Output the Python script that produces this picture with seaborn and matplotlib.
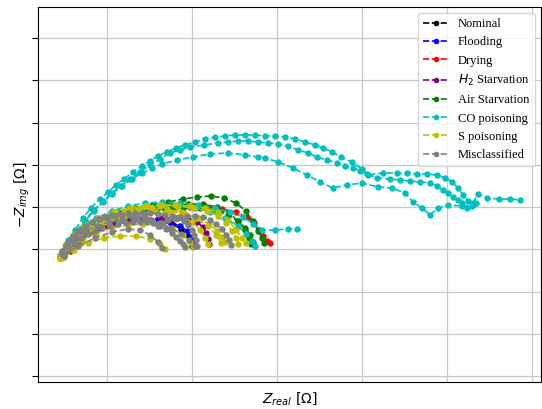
import matplotlib
matplotlib.use('Agg')
import matplotlib.pyplot as plt
from matplotlib.lines import Line2D
import pandas as pd
import numpy as np
import seaborn as sns

# %% data: Z_real and Z_img per curve (plotted as -Z_img)
classes = ['Nominal', 'Flooding', 'Drying', '$H_2$ Starvation', 'Air Starvation',
           'CO poisoning', 'S poisoning', 'Misclassified']
colors = ['black', 'blue', 'red', 'purple', 'green', 'c', 'y', 'gray']

nom_x = [61, 70, 82, 97, 113, 130, 146, 160, 172, 181, 187, 190, 192]
nom_zi = [-145, -155, -164, -171, -176, -179, -180, -179, -176, -171, -165, -159, -154]

flood_x = [60, 70, 82, 96, 112, 128, 144, 158, 170, 180, 187, 191, 194, 195]
flood_zi = [-145, -156, -166, -173, -178, -181, -182, -181, -178, -174, -169, -163, -158, -154]

dry_x = [60, 70, 82, 94, 107, 122, 138, 155, 173, 190, 207, 222, 236, 247, 254, 259, 263, 267, 270]
dry_zi = [-142, -149, -159, -167, -174, -180, -185, -189, -192, -193, -193, -191, -188, -183,
          -177, -170, -164, -159, -157]

h2_x = [61, 70, 83, 98, 114, 130, 146, 162, 176, 188, 197, 203, 206, 208, 209]
h2_zi = [-144, -154, -164, -171, -176, -179, -181, -182, -182, -181, -178, -173, -167, -161, -156]

air1_x = [62, 72, 85, 100, 118, 135, 152, 168, 183, 197, 211, 224, 236, 246, 253, 258, 262, 264]
air1_zi = [-147, -160, -172, -181, -188, -192, -195, -198, -201, -203, -204, -202, -197, -189,
           -179, -169, -162, -157]
air2_x = [64, 78, 95, 115, 135, 155, 172, 188, 203, 217, 229, 238, 245, 249, 251]
air2_zi = [-145, -159, -171, -181, -187, -191, -194, -196, -196, -193, -187, -179, -170, -162, -156]
air3_x = [63, 75, 90, 108, 127, 146, 165, 183, 200, 215, 228, 238, 245, 250, 253]
air3_zi = [-146, -158, -169, -178, -184, -188, -191, -192, -192, -190, -185, -179, -172, -165, -158]

co1_x = [62, 68, 75, 83, 91, 100, 108, 116, 124, 133, 142, 150, 158, 167, 176, 185, 195, 205,
         215, 225, 235, 245, 255, 265, 275, 285, 295, 305, 315, 323, 332, 341, 352, 362, 368,
         383, 397, 407, 417, 427, 437, 445, 452, 458, 463, 468, 473, 478, 487, 499, 510, 520]
co1_zi = [-148, -160, -170, -182, -192, -201, -208, -215, -221, -228, -234, -239, -244, -248,
          -252, -255, -258, -261, -263, -264, -265, -265, -265, -264, -264, -263, -261, -258,
          -255, -252, -248, -243, -238, -231, -225, -227, -227, -227, -226, -226, -225, -222,
          -218, -212, -205, -199, -197, -206, -202, -201, -201, -200]
co2_x = [63, 69, 77, 85, 94, 103, 112, 121, 130, 140, 150, 160, 170, 180, 190, 204, 218, 228,
         238, 248, 258, 268, 278, 288, 298, 308, 317, 327, 337, 345, 353, 360, 367, 377, 390,
         400, 410, 420, 430, 437, 443, 448, 453, 458, 462, 467, 472, 476]
co2_zi = [-147, -158, -169, -180, -190, -199, -207, -214, -221, -228, -235, -241, -247, -250,
          -253, -255, -257, -258, -259, -259, -258, -257, -256, -254, -250, -247, -243, -240,
          -237, -234, -232, -229, -226, -222, -221, -220, -219, -218, -217, -214, -210, -207,
          -203, -200, -197, -192, -194, -197]
co3_x = [62, 68, 76, 85, 94, 103, 112, 122, 132, 142, 152, 162, 177, 193, 210, 228, 245, 258,
         265, 278, 293, 307, 320, 333, 347, 362, 378, 392, 405, 413, 422, 430, 438, 448, 462, 473]
co3_zi = [-146, -157, -168, -179, -189, -198, -206, -214, -221, -227, -232, -236, -240, -243,
          -246, -247, -245, -243, -242, -238, -232, -225, -218, -212, -215, -217, -213, -212,
          -207, -198, -192, -185, -192, -195, -194, -195]
co4_x = [62, 70, 82, 96, 112, 128, 145, 162, 180, 198, 215, 230, 243, 253, 262, 275, 288, 297]
co4_zi = [-148, -160, -172, -182, -189, -194, -197, -198, -197, -195, -192, -188, -183, -176,
          -170, -170, -171, -171]
co5_x = [63, 75, 90, 108, 125, 142, 160, 178, 195, 210, 225, 238, 246, 252, 255]
co5_zi = [-146, -160, -172, -182, -188, -192, -194, -194, -192, -188, -182, -174, -166, -159, -154]

s1_x = [60, 66, 75, 86, 100, 115, 130, 145, 160, 175, 190, 205, 218, 228, 236, 242, 246]
s1_zi = [-144, -155, -166, -175, -182, -188, -192, -194, -195, -195, -194, -192, -188, -180,
         -170, -162, -157]
s2_x = [61, 68, 78, 90, 104, 120, 135, 150, 165, 180, 192, 200, 205, 208]
s2_zi = [-143, -153, -163, -171, -178, -183, -186, -188, -187, -184, -178, -170, -162, -156]
s3_x = [62, 70, 82, 96, 112, 128, 143, 158, 172, 183, 190, 193]
s3_zi = [-142, -151, -160, -167, -172, -175, -176, -176, -172, -165, -158, -153]
s4_x = [60, 65, 73, 84, 98, 114, 130, 146, 162, 178, 193, 207, 218, 226, 232, 236, 238]
s4_zi = [-145, -155, -165, -174, -182, -188, -192, -194, -195, -194, -192, -189, -184, -177,
         -169, -162, -156]
s5_x = [64, 74, 88, 104, 120, 136, 150, 160, 165]
s5_zi = [-143, -150, -157, -162, -164, -164, -161, -156, -151]
s6_x = [61, 69, 80, 93, 108, 124, 140, 156, 171, 185, 198, 209, 217, 222, 225]
s6_zi = [-144, -154, -164, -172, -178, -183, -186, -188, -188, -186, -182, -176, -169, -163, -158]
s7_x = [60, 64, 70, 78, 88, 99, 111, 124, 138, 152, 167, 182, 196, 208, 216, 221]
s7_zi = [-142, -150, -159, -167, -174, -180, -185, -189, -191, -192, -191, -188, -182, -174,
         -165, -157]

mis1_x = [62, 66, 70, 75, 80, 86, 92, 98, 105, 112, 120, 128, 135, 143, 150, 158, 165, 172,
          178, 184, 188, 192, 194, 196, 197]
mis1_zi = [-147, -154, -160, -165, -170, -174, -178, -181, -183, -185, -186, -187, -187, -187,
           -187, -186, -185, -184, -182, -179, -175, -170, -165, -160, -154]
mis2_x = [64, 69, 75, 81, 88, 95, 102, 110, 118, 126, 133, 140, 147, 153, 158, 163, 168, 174,
          180, 187, 195, 203, 210, 216, 222, 226, 229, 231]
mis2_zi = [-145, -151, -157, -162, -166, -169, -172, -174, -176, -177, -178, -178, -178, -177,
           -174, -177, -180, -182, -183, -184, -184, -183, -180, -176, -171, -165, -160, -155]
mis3_x = [62, 67, 72, 78, 85, 92, 100, 107, 115, 122, 130, 137, 145, 152, 160, 166, 172, 176,
          180, 183, 185]
mis3_zi = [-149, -157, -163, -169, -174, -178, -181, -183, -184, -185, -185, -184, -182, -179,
           -174, -171, -167, -163, -159, -156, -153]
mis4_x = [64, 78, 95, 112, 128, 140, 150, 158, 162]
mis4_zi = [-144, -154, -162, -168, -171, -170, -165, -158, -152]
mis5_x = [62, 68, 76, 86, 97, 109, 122, 135, 148, 160, 171, 181, 189, 195]
mis5_zi = [-146, -154, -162, -169, -174, -178, -180, -181, -180, -177, -172, -166, -160, -154]

curves = [
    ('Nominal', nom_x, nom_zi),
    ('Flooding', flood_x, flood_zi),
    ('Drying', dry_x, dry_zi),
    ('$H_2$ Starvation', h2_x, h2_zi),
    ('Air Starvation', air1_x, air1_zi),
    ('Air Starvation', air2_x, air2_zi),
    ('Air Starvation', air3_x, air3_zi),
    ('CO poisoning', co1_x, co1_zi),
    ('CO poisoning', co2_x, co2_zi),
    ('CO poisoning', co3_x, co3_zi),
    ('CO poisoning', co4_x, co4_zi),
    ('CO poisoning', co5_x, co5_zi),
    ('S poisoning', s1_x, s1_zi),
    ('S poisoning', s2_x, s2_zi),
    ('S poisoning', s3_x, s3_zi),
    ('S poisoning', s4_x, s4_zi),
    ('S poisoning', s5_x, s5_zi),
    ('S poisoning', s6_x, s6_zi),
    ('S poisoning', s7_x, s7_zi),
    ('Misclassified', mis1_x, mis1_zi),
    ('Misclassified', mis2_x, mis2_zi),
    ('Misclassified', mis3_x, mis3_zi),
    ('Misclassified', mis4_x, mis4_zi),
    ('Misclassified', mis5_x, mis5_zi),
]

frames = []
for i, (label, zx, zi) in enumerate(curves):
    frames.append(pd.DataFrame({'Z_real': zx, 'Z_img': zi, 'Class': label, 'curve': i}))
df = pd.concat(frames, ignore_index=True)
df['-Z_img'] = -df['Z_img']

# %% plot
fig = plt.figure(figsize=(5.42, 4.09), dpi=100)
ax = fig.add_axes([38 / 542, 27 / 409, 503 / 542, 375 / 409])

sns.lineplot(data=df, x='Z_real', y='-Z_img', hue='Class', hue_order=classes,
             palette=dict(zip(classes, colors)), units='curve', estimator=None, sort=False,
             linestyle='--', linewidth=1.2, marker='o', markersize=4.6, markeredgewidth=0,
             legend=False, ax=ax)

# ticks first, limits after (set_xticks would widen the view otherwise)
ax.set_xticks(np.arange(107, 541, 85))
ax.set_yticks(np.arange(24, 393, 42.25))
ax.set_xlim(38, 541)
ax.set_ylim(18, 393)
ax.grid(True, color='#c8c8c8', linewidth=0.9)
ax.set_axisbelow(True)
ax.tick_params(axis='x', length=0, labelbottom=False)
ax.tick_params(axis='y', length=4, labelleft=False)

ax.set_xlabel(r'$Z_{real}$ [$\Omega$]', fontsize=10, labelpad=6)
ax.set_ylabel(r'$-Z_{img}$ [$\Omega$]', fontsize=10, labelpad=0)

handles = [Line2D([0], [0], color=c, linestyle='--', linewidth=1.2, marker='o',
                  markersize=4, markeredgewidth=0) for c in colors]
ax.legend(handles, classes, loc='upper right', prop={'family': 'Liberation Serif', 'size': 9})

plt.savefig('out.png', dpi=100)
